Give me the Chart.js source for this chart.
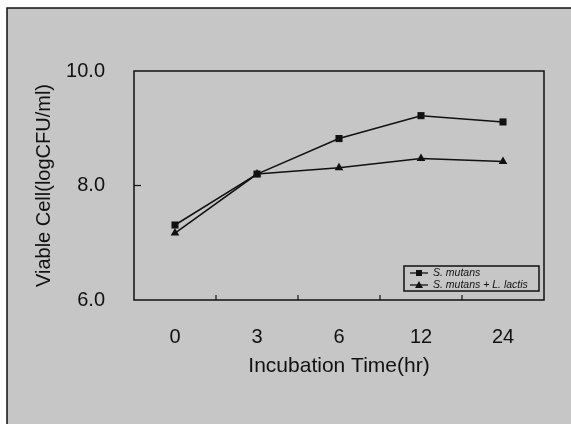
<!DOCTYPE html>
<html>
<head>
<meta charset="utf-8">
<script src="https://cdn.jsdelivr.net/npm/chart.js@4/dist/chart.umd.min.js"></script>
<style>
  html, body { margin: 0; padding: 0; background: #ffffff; }
  #wrap { width: 571px; height: 424px; position: relative; }
</style>
</head>
<body>
<div id="wrap"><canvas id="c" width="571" height="424"></canvas></div>
<script>
// ---- data ----
const categories = ['0', '3', '6', '12', '24'];
const seriesNames = ['S. mutans', 'S. mutans + L. lactis'];
const mutansValues = [7.31, 8.20, 8.82, 9.22, 9.11];
const mutansLactisValues = [7.17, 8.20, 8.31, 8.47, 8.42];
const yTickValues = [6, 8, 10];
const yTickLabels = ['6.0', '8.0', '10.0'];
const xTitle = 'Incubation Time(hr)';
const yTitle = 'Viable Cell(logCFU/ml)';

const FONT = 'Arial, "Liberation Sans", Helvetica, sans-serif';
const BG = '#c6c6c6';
const INK = '#111111';

const backgroundPlugin = {
  id: 'bgFrame',
  beforeDraw(chart) {
    const ctx = chart.ctx;
    ctx.save();
    ctx.fillStyle = '#ffffff';
    ctx.fillRect(0, 0, chart.width, chart.height);
    ctx.fillStyle = BG;
    ctx.fillRect(7, 8, chart.width - 7, chart.height - 8);
    ctx.strokeStyle = INK;
    ctx.lineWidth = 1.5;
    ctx.beginPath();
    ctx.moveTo(7, chart.height);
    ctx.lineTo(7, 8);
    ctx.lineTo(chart.width, 8);
    ctx.stroke();
    ctx.restore();
  }
};

const boxPlugin = {
  id: 'boxTicks',
  afterDraw(chart) {
    const ctx = chart.ctx;
    const a = chart.chartArea;
    const xs = chart.scales.x, ys = chart.scales.y;
    ctx.save();
    ctx.strokeStyle = INK;
    ctx.lineWidth = 1.5;
    ctx.strokeRect(a.left, a.top, a.right - a.left, a.bottom - a.top);
    // inward y ticks (interior only)
    ctx.lineWidth = 1.2;
    ys.ticks.forEach((t, i) => {
      const py = ys.getPixelForTick(i);
      if (py > a.top + 2 && py < a.bottom - 2) {
        ctx.beginPath();
        ctx.moveTo(a.left, py);
        ctx.lineTo(a.left + 7, py);
        ctx.stroke();
      }
    });
    // inward x ticks between categories
    for (let i = 0; i < categories.length - 1; i++) {
      const px = (xs.getPixelForValue(i) + xs.getPixelForValue(i + 1)) / 2;
      ctx.beginPath();
      ctx.moveTo(px, a.bottom);
      ctx.lineTo(px, a.bottom - 5);
      ctx.stroke();
    }
    // legend
    const lx = a.right - 140, ly = a.bottom - 34, lw = 135, lh = 25;
    ctx.lineWidth = 1.5;
    ctx.strokeRect(lx, ly, lw, lh);
    chart.data.datasets.forEach((ds, i) => {
      const yy = ly + 7 + i * 12;
      ctx.lineWidth = 1.3;
      ctx.strokeStyle = INK;
      ctx.beginPath();
      ctx.moveTo(lx + 6, yy);
      ctx.lineTo(lx + 24, yy);
      ctx.stroke();
      ctx.fillStyle = INK;
      if (ds.pointStyle === 'rect') {
        ctx.fillRect(lx + 15 - 3, yy - 3, 6, 6);
      } else {
        ctx.beginPath();
        ctx.moveTo(lx + 15, yy - 4);
        ctx.lineTo(lx + 19, yy + 3);
        ctx.lineTo(lx + 11, yy + 3);
        ctx.closePath();
        ctx.fill();
      }
      ctx.font = 'italic 10.5px ' + FONT;
      ctx.textBaseline = 'middle';
      ctx.textAlign = 'left';
      ctx.fillText(ds.label, lx + 29, yy + 0.5);
    });
    ctx.restore();
  }
};

new Chart(document.getElementById('c'), {
  type: 'line',
  data: {
    labels: categories,
    datasets: [
      {
        label: seriesNames[0],
        data: mutansValues,
        borderColor: INK,
        backgroundColor: INK,
        borderWidth: 1.5,
        pointStyle: 'rect',
        pointRadius: 5,
        pointBorderWidth: 0,
        tension: 0
      },
      {
        label: seriesNames[1],
        data: mutansLactisValues,
        borderColor: INK,
        backgroundColor: INK,
        borderWidth: 1.5,
        pointStyle: 'triangle',
        pointRadius: 5,
        pointBorderWidth: 0,
        tension: 0
      }
    ]
  },
  options: {
    responsive: false,
    animation: false,
    devicePixelRatio: 1,
    layout: { padding: { left: 0, top: 71, right: 27, bottom: 0 } },
    plugins: {
      legend: { display: false },
      tooltip: { enabled: false }
    },
    scales: {
      x: {
        type: 'category',
        offset: true,
        grid: { display: false, drawTicks: false },
        border: { display: false },
        ticks: {
          color: INK,
          font: { family: FONT, size: 20 },
          padding: 25,
          maxRotation: 0
        },
        title: {
          display: true,
          text: xTitle,
          color: INK,
          font: { family: FONT, size: 21 },
          padding: { top: 0, bottom: 45 }
        },
        afterFit(scale) { scale.height = 124; }
      },
      y: {
        min: 6,
        max: 10,
        afterBuildTicks(scale) {
          scale.ticks = yTickValues.map(v => ({ value: v }));
        },
        grid: { display: false, drawTicks: false },
        border: { display: false },
        ticks: {
          color: INK,
          font: { family: FONT, size: 20 },
          padding: 29,
          callback(value) {
            const idx = yTickValues.indexOf(value);
            return idx >= 0 ? yTickLabels[idx] : '';
          }
        },
        title: {
          display: true,
          text: yTitle,
          color: INK,
          font: { family: FONT, size: 20 },
          padding: { top: 32, bottom: 0 }
        },
        afterFit(scale) { scale.width = 134; }
      }
    }
  },
  plugins: [backgroundPlugin, boxPlugin]
});
</script>
</body>
</html>
